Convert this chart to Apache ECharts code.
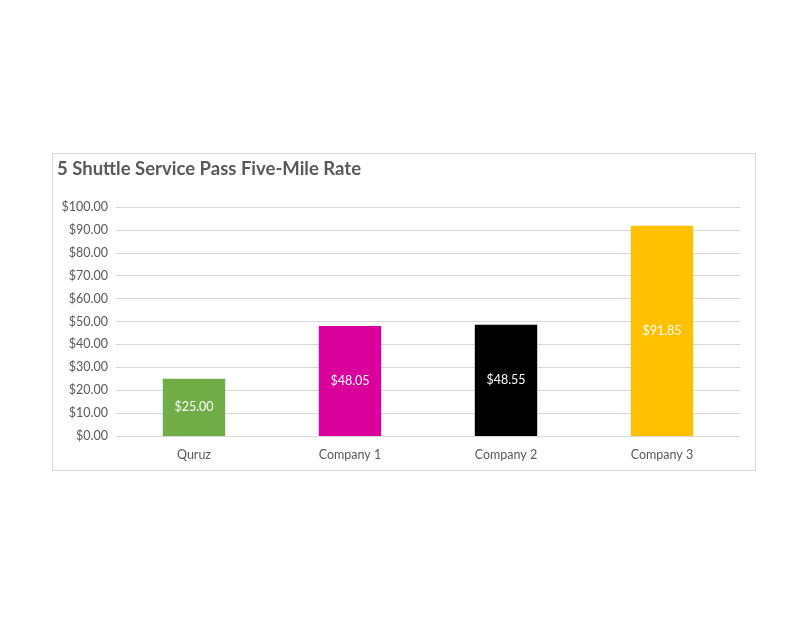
<!DOCTYPE html>
<html>
<head>
<meta charset="utf-8">
<title>5 Shuttle Service Pass Five-Mile Rate</title>
<script src="https://cdn.jsdelivr.net/npm/echarts@6/dist/echarts.min.js"></script>
<style>
  html, body { margin: 0; padding: 0; background: #fff; }
  #chart { width: 807px; height: 624px; }
</style>
</head>
<body>
<div id="chart"></div>
<script>
// data
var categories = ['Quruz', 'Company 1', 'Company 2', 'Company 3'];
var rates = [25.00, 48.05, 48.55, 91.85];
var barColors = ['#70ad47', '#d9009b', '#000000', '#ffc000'];
var yTicks = { min: 0, max: 100, interval: 10 };

var fontFam = 'Lato, "Open Sans", sans-serif';

var chart = echarts.init(document.getElementById('chart'));

function money(v) {
  return '$' + Number(v).toFixed(2);
}

chart.setOption({
  animation: false,
  title: {
    text: '5 Shuttle Service Pass Five-Mile Rate',
    left: 57,
    top: 160,
    padding: 0,
    textStyle: {
      fontFamily: fontFam,
      fontSize: 18.5,
      fontWeight: 'bold',
      color: '#595959'
    }
  },
  graphic: [{
    type: 'rect',
    shape: { x: 52.5, y: 153.5, width: 703, height: 317 },
    style: { fill: 'none', stroke: '#d9d9d9', lineWidth: 1 },
    silent: true
  }],
  grid: {
    left: 116,
    right: 67,
    top: 207,
    bottom: 188
  },
  xAxis: {
    type: 'category',
    data: categories,
    axisTick: { show: false },
    axisLine: { lineStyle: { color: '#d9d9d9' } },
    axisLabel: {
      margin: 12,
      fontFamily: fontFam,
      fontSize: 12.5,
      color: '#595959'
    }
  },
  yAxis: {
    type: 'value',
    min: yTicks.min,
    max: yTicks.max,
    interval: yTicks.interval,
    axisLine: { show: false },
    axisTick: { show: false },
    splitLine: { lineStyle: { color: '#d9d9d9' } },
    axisLabel: {
      margin: 8,
      fontFamily: fontFam,
      fontSize: 12.5,
      color: '#595959',
      formatter: money
    }
  },
  series: [{
    type: 'bar',
    barWidth: '40%',
    data: rates.map(function (v, i) {
      return { value: v, itemStyle: { color: barColors[i] } };
    }),
    label: {
      show: true,
      position: 'inside',
      fontFamily: fontFam,
      fontSize: 12.5,
      color: '#ffffff',
      formatter: function (p) { return money(p.value); }
    }
  }]
});
</script>
</body>
</html>
